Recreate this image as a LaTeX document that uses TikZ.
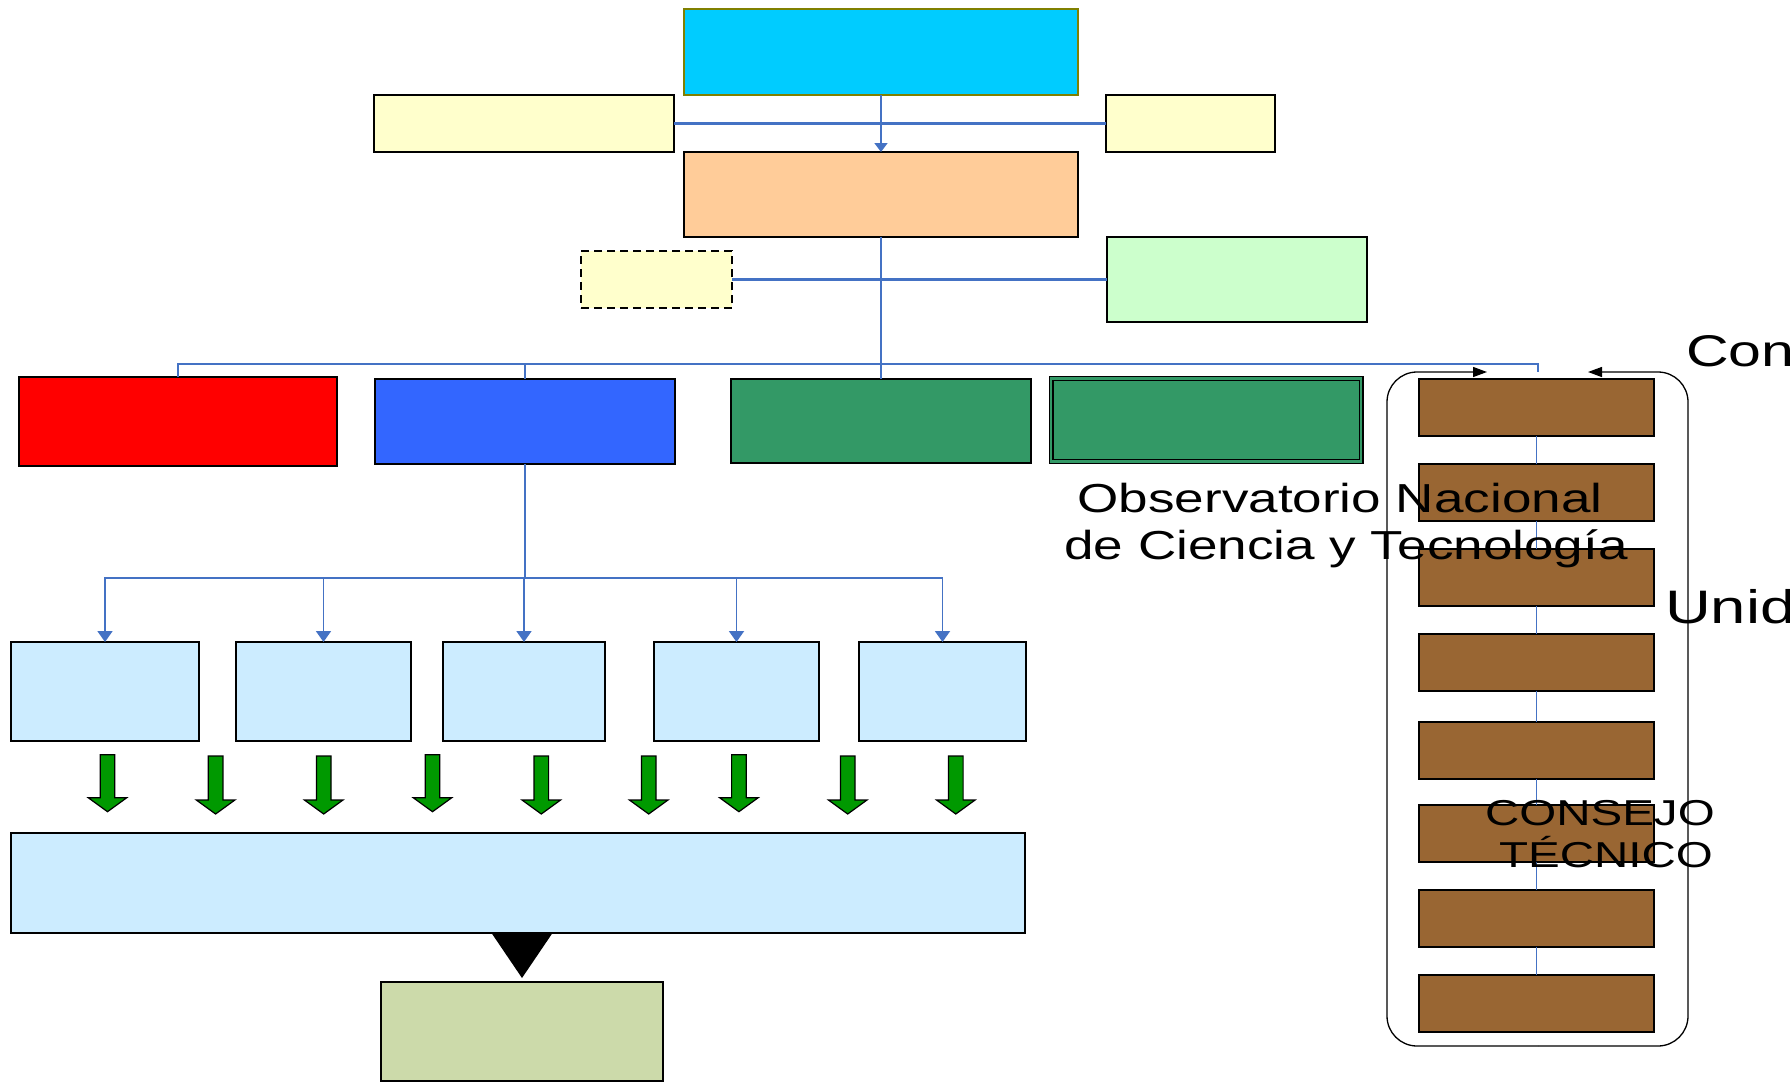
\documentclass[tikz,border=0pt]{standalone}
\usepackage{fontspec}
\setmainfont{Liberation Sans}
\usetikzlibrary{arrows.meta}
\definecolor{cyanbox}{RGB}{0,204,255}
\definecolor{olivebd}{RGB}{128,128,0}
\definecolor{paleyel}{RGB}{255,255,204}
\definecolor{peach}{RGB}{255,204,153}
\definecolor{palegreen}{RGB}{204,255,204}
\definecolor{redbox}{RGB}{255,0,0}
\definecolor{bluebox}{RGB}{51,102,255}
\definecolor{seagreen}{RGB}{51,153,102}
\definecolor{paleblue}{RGB}{204,236,255}
\definecolor{arrgreen}{RGB}{0,153,0}
\definecolor{sagebox}{RGB}{204,218,170}
\definecolor{brownbox}{RGB}{153,102,51}
\definecolor{connblue}{RGB}{68,114,196}
\newcommand{\bx}[6]{\node[#6, minimum width={(#4-#2)*0.5pt}, minimum height={(#5-#3)*0.5pt}] (#1) at ({(#2+#4)/2},{(#3+#5)/2}) {};}
\begin{document}
\begin{tikzpicture}[x=0.5pt,y=-0.5pt,
  box/.style={draw=black, line width=0.65pt, inner sep=0pt, outer sep=0pt},
  conn/.style={draw=connblue, line width=1.2pt},
  connthin/.style={draw=connblue, line width=0.8pt},
  garr/.style={fill=arrgreen, draw=black, line width=0.6pt, line join=miter},
  txt/.style={inner sep=0pt, outer sep=0pt, anchor=base, text=black},
  bigtxt/.style={txt, font=\fontsize{20.25}{24}\selectfont},
  sidetxt/.style={txt, anchor=base west},
  ctxt/.style={txt, font=\fontsize{18}{22}\selectfont}]
\useasboundingbox (0,0) rectangle (1790,1082);
% top boxes
\bx{cyan}{684}{9}{1078}{95}{box, draw=olivebd, line width=0.8pt, fill=cyanbox}
\bx{lyel}{374}{95}{674}{152}{box, fill=paleyel}
\bx{ryel}{1106}{95}{1275}{152}{box, fill=paleyel}
\bx{orange}{684}{152}{1078}{237}{box, fill=peach}
\bx{dashy}{581}{251}{732}{308}{box, dashed, dash pattern=on 4pt off 2.5pt, fill=paleyel}
\bx{lgreen}{1107}{237}{1367}{322}{box, fill=palegreen}
% second row
\bx{red}{19}{377}{337}{466}{box, fill=redbox}
\bx{blue}{375}{379}{675}{464}{box, fill=bluebox}
\bx{green1}{731}{379}{1031}{463}{box, fill=seagreen}
\bx{green2}{1051}{378.7}{1361}{461.7}{box, line width=0.6pt, double=seagreen, double distance=1.3pt, fill=seagreen}
% light blue boxes
\bx{lb1}{11}{642}{199}{741}{box, fill=paleblue}
\bx{lb2}{236}{642}{411}{741}{box, fill=paleblue}
\bx{lb3}{443}{642}{605}{741}{box, fill=paleblue}
\bx{lb4}{654}{642}{819}{741}{box, fill=paleblue}
\bx{lb5}{859}{642}{1026}{741}{box, fill=paleblue}
\bx{big}{11}{833}{1025}{933}{box, fill=paleblue}
\bx{sage}{381}{982}{663}{1081}{box, fill=sagebox}
% brown column
\bx{br1}{1419}{379}{1654}{436}{box, line width=0.55pt, fill=brownbox}
\bx{br2}{1419}{464}{1654}{521}{box, line width=0.55pt, fill=brownbox}
\bx{br3}{1419}{549}{1654}{606}{box, line width=0.55pt, fill=brownbox}
\bx{br4}{1419}{634}{1654}{691}{box, line width=0.55pt, fill=brownbox}
\bx{br5}{1419}{722}{1654}{779}{box, line width=0.55pt, fill=brownbox}
\bx{br6}{1419}{805}{1654}{862}{box, line width=0.55pt, fill=brownbox}
\bx{br7}{1419}{890}{1654}{947}{box, line width=0.55pt, fill=brownbox}
\bx{br8}{1419}{975}{1654}{1032}{box, line width=0.55pt, fill=brownbox}
% connectors
\draw[connthin, -{Triangle[width=6.5pt,length=4.5pt]}] (cyan.south) -- (orange.north);
\draw[conn] (lyel.east) -- (ryel.west);
\draw[conn] (dashy.east) -- (lgreen.west);
\coordinate (bus) at (881,364);
\coordinate (gapc) at (1538,372);
\draw[conn] (orange.south) -- (green1.north);
\draw[conn] (red.north) |- (bus);
\draw[conn] (blue.north) |- (bus);
\draw[connthin] (bus) -| (gapc);
\coordinate (bus2) at (525,578);
\draw[conn] (blue.south) -- (bus2);
\foreach \b in {lb1,lb2,lb3,lb4,lb5}
  \draw[conn, line width=0.95pt, -{Triangle[width=7.5pt,length=5.5pt]}] (bus2) -| (\b.north);
\foreach \i/\j in {br1/br2,br2/br3,br3/br4,br4/br5,br5/br6,br6/br7,br7/br8}
  \draw[connthin] (\i.south) -- (\j.north);
% green block arrows
\foreach \x/\t/\b in {107.5/754.7/811.7, 215.6/756/814, 323.7/756/814, 432.5/754.7/811.7, 541.3/756/814, 648.7/756/814, 738.9/754.7/811.7, 847.7/756/814, 955.8/756/814}
  \filldraw[garr] (\x-7.3,\t) -- (\x+7.3,\t) -- (\x+7.3,\b-14) -- (\x+19.3,\b-14) -- (\x,\b) -- (\x-19.3,\b-14) -- (\x-7.3,\b-14) -- cycle;
% black triangle
\fill[black] ([xshift=-15.25pt]sage.north |- big.south) -- ([xshift=15.25pt]sage.north |- big.south) -- ([yshift=2pt]sage.north) -- cycle;
% rounded frame with arrows
\draw[line width=0.65pt, rounded corners=15pt, -{Triangle[width=5pt,length=7pt]}] (1538,1046) -- (1387,1046) -- (1387,372) -- (1487,372);
\draw[line width=0.65pt, rounded corners=15pt, -{Triangle[width=5pt,length=7pt]}] (1538,1046) -- (1688,1046) -- (1688,372) -- (1588,372);
% texts
\node[bigtxt] (obs1) at (1340,512.7) {\scalebox{1.31}[1]{Observatorio Nacional}};
\node[bigtxt] (obs2) at (1346,559) {\scalebox{1.31}[1]{de Ciencia y Tecnología}};
\node[sidetxt, font=\fontsize{22.2}{27}\selectfont] (con) at (1686,366.5) {\scalebox{1.33}[1]{Con}};
\node[sidetxt, font=\fontsize{23.5}{28}\selectfont] (unid) at (1665,623) {\scalebox{1.35}[1]{Unid}};
\begin{scope}
\clip (1380,770) rectangle (1716,900);
\node[ctxt, anchor=base west] (cons1) at (1485,825) {\scalebox{1.32}[1]{CONSEJO}};
\node[ctxt] (cons2) at (1606,867.7) {\scalebox{1.32}[1]{TÉCNICO}};
\end{scope}
\end{tikzpicture}
\end{document}
